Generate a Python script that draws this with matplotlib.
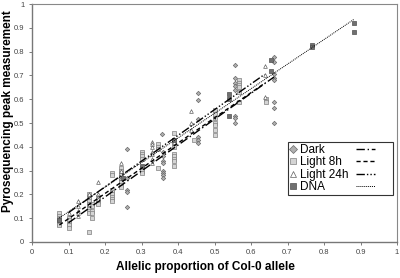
from matplotlib import pyplot as plt
from matplotlib.lines import Line2D
from matplotlib.patches import Rectangle
import numpy as np

plt.rcParams['font.family'] = ['Liberation Sans', 'DejaVu Sans']

# Dark (diamonds)
dark_x = [0.1, 0.26, 0.26, 0.26, 0.26, 0.26,
          0.36, 0.36, 0.36, 0.36, 0.36, 0.36, 0.36, 0.36, 0.357,
          0.455, 0.455, 0.455, 0.455, 0.455, 0.455,
          0.555, 0.555, 0.555, 0.555, 0.555, 0.555, 0.555, 0.555,
          0.663, 0.663, 0.663, 0.663, 0.663, 0.663, 0.663, 0.663]
dark_y = [0.10, 0.39, 0.27, 0.22, 0.21, 0.145,
          0.38, 0.36, 0.34, 0.33, 0.30, 0.29, 0.28, 0.27, 0.454,
          0.625, 0.597, 0.517, 0.44, 0.43, 0.415,
          0.744, 0.69, 0.67, 0.655, 0.64, 0.53, 0.52, 0.50,
          0.777, 0.756, 0.705, 0.69, 0.68, 0.59, 0.565, 0.50]

# Light 8h (light squares)
l8_x = [0.075] * 9 + [0.1] * 5 + [0.155] * 10 + [0.165] * 5 + [0.18] * 3 + \
       [0.22] * 8 + [0.245] * 8 + [0.3] * 7 + [0.345] * 4 + [0.39] * 9 + \
       [0.445] + [0.5] * 7 + [0.567] * 6 + [0.64] * 2
l8_y = [0.12, 0.11, 0.10, 0.095, 0.09, 0.085, 0.08, 0.075, 0.07,
        0.10, 0.09, 0.08, 0.07, 0.06,
        0.20, 0.19, 0.18, 0.17, 0.16, 0.15, 0.14, 0.13, 0.12, 0.04,
        0.16, 0.15, 0.13, 0.12, 0.10,
        0.19, 0.17, 0.16,
        0.29, 0.28, 0.22, 0.21, 0.20, 0.19, 0.18, 0.17,
        0.31, 0.30, 0.29, 0.28, 0.26, 0.25, 0.24, 0.23,
        0.38, 0.37, 0.36, 0.35, 0.31, 0.30, 0.29,
        0.41, 0.40, 0.39, 0.31,
        0.46, 0.43, 0.41, 0.40, 0.37, 0.36, 0.35, 0.34, 0.32,
        0.43,
        0.555, 0.54, 0.52, 0.50, 0.49, 0.47, 0.45,
        0.68, 0.67, 0.66, 0.65, 0.63, 0.59,
        0.60, 0.59]

# Light 24h (triangles)
l24_x = [0.1] + [0.125] * 5 + [0.155] * 2 + [0.18] * 4 + [0.245] * 3 + \
        [0.33] * 7 + [0.39] + [0.435] * 3 + [0.637] * 3
l24_y = [0.12,
         0.17, 0.15, 0.13, 0.12, 0.11,
         0.20, 0.16,
         0.25, 0.20, 0.19, 0.18,
         0.33, 0.30, 0.27,
         0.42, 0.41, 0.40, 0.38, 0.37, 0.35, 0.33,
         0.42,
         0.55, 0.50, 0.47,
         0.74, 0.70, 0.61]

# DNA (dark squares)
dna_x = [0.075, 0.25, 0.3, 0.39, 0.54, 0.54, 0.54, 0.654, 0.654, 0.766, 0.766, 0.883, 0.883]
dna_y = [0.09, 0.27, 0.32, 0.43, 0.62, 0.60, 0.53, 0.765, 0.72, 0.828, 0.82, 0.921, 0.882]

fig = plt.figure(figsize=(4, 2.78), dpi=100)
ax = fig.add_axes([0.08, 0.13, 0.9125, 0.855])

series = [
    ('Dark', dark_x, dark_y, dict(marker='D', s=5, facecolor='#b0b0b0', edgecolor='#6a6a6a'), (0, (6, 2, 1, 2))),
    ('Light 8h', l8_x, l8_y, dict(marker='s', s=6, facecolor='#d4d4d4', edgecolor='#808080'), (0, (3, 2))),
    ('Light 24h', l24_x, l24_y, dict(marker='^', s=7, facecolor='white', edgecolor='#606060'), (0, (6, 1.5, 1, 1.5, 1, 1.5))),
    ('DNA', dna_x, dna_y, dict(marker='s', s=8, facecolor='#707070', edgecolor='#505050'), (0, (1, 1))),
]

mk_handles = []
ln_handles = []
for name, xs, ys, mk, ls in series:
    ax.scatter(xs, ys, linewidths=0.5, zorder=3, **mk)
    k, b = np.polyfit(xs, ys, 1)
    xx = np.array([min(xs), max(xs)])
    lw = 0.7 if name == 'DNA' else 1.0
    ax.plot(xx, k * xx + b, color='black', lw=lw, linestyle=ls, zorder=4)
    mk_handles.append(Line2D([], [], linestyle='none', marker=mk['marker'], markersize=4.5,
                             markerfacecolor=mk['facecolor'], markeredgecolor=mk['edgecolor'],
                             markeredgewidth=0.5))
    ln_handles.append(Line2D([], [], color='black', lw=lw, linestyle=ls))

ax.set_xlim(0, 1)
ax.set_ylim(0, 1)
ax.set_xticks(np.arange(0, 1.01, 0.1))
ax.set_yticks(np.arange(0, 1.01, 0.1))
ax.set_xticklabels(['0', '0.1', '0.2', '0.3', '0.4', '0.5', '0.6', '0.7', '0.8', '0.9', '1'])
ax.set_yticklabels(['0', '0.1', '0.2', '0.3', '0.4', '0.5', '0.6', '0.7', '0.8', '0.9', '1'])
ax.tick_params(labelsize=5.5, labelcolor='#444444', length=2.5, width=0.6, color='#666666', pad=3)
for sp in ['left', 'bottom']:
    ax.spines[sp].set_color('#777777')
    ax.spines[sp].set_linewidth(1.0)
for sp in ['top', 'right']:
    ax.spines[sp].set_color('#888888')
    ax.spines[sp].set_linewidth(0.8)

ax.set_xlabel('Allelic proportion of Col-0 allele', fontsize=8.5, fontweight='bold')
ax.set_ylabel('Pyrosequencing peak measurement', fontsize=8.5, fontweight='bold')
ax.xaxis.set_label_coords(0.474, -0.08)
ax.yaxis.set_label_coords(-0.05, 0.548)

# legend box holding both marker and line columns
box = Rectangle((0.70, 0.197), 0.289, 0.223, transform=ax.transAxes, facecolor='white',
                edgecolor='#333333', linewidth=0.8, zorder=5)
ax.add_patch(box)
leg = ax.legend(mk_handles, [s[0] for s in series], loc='upper left',
                bbox_to_anchor=(0.698, 0.423), fontsize=8.5, frameon=False,
                handlelength=0.6, handletextpad=0.35,
                labelspacing=0.05, borderpad=0.2, borderaxespad=0)
leg.set_zorder(6)
ax.add_artist(leg)
leg2 = ax.legend(ln_handles, ['', '', '', ''], loc='upper left',
                 bbox_to_anchor=(0.882, 0.423), fontsize=8.5, frameon=False,
                 handlelength=1.6, handletextpad=0, labelspacing=0.05, borderpad=0.2,
                 borderaxespad=0)
leg2.set_zorder(6)

fig.savefig('out.png', dpi=100)
